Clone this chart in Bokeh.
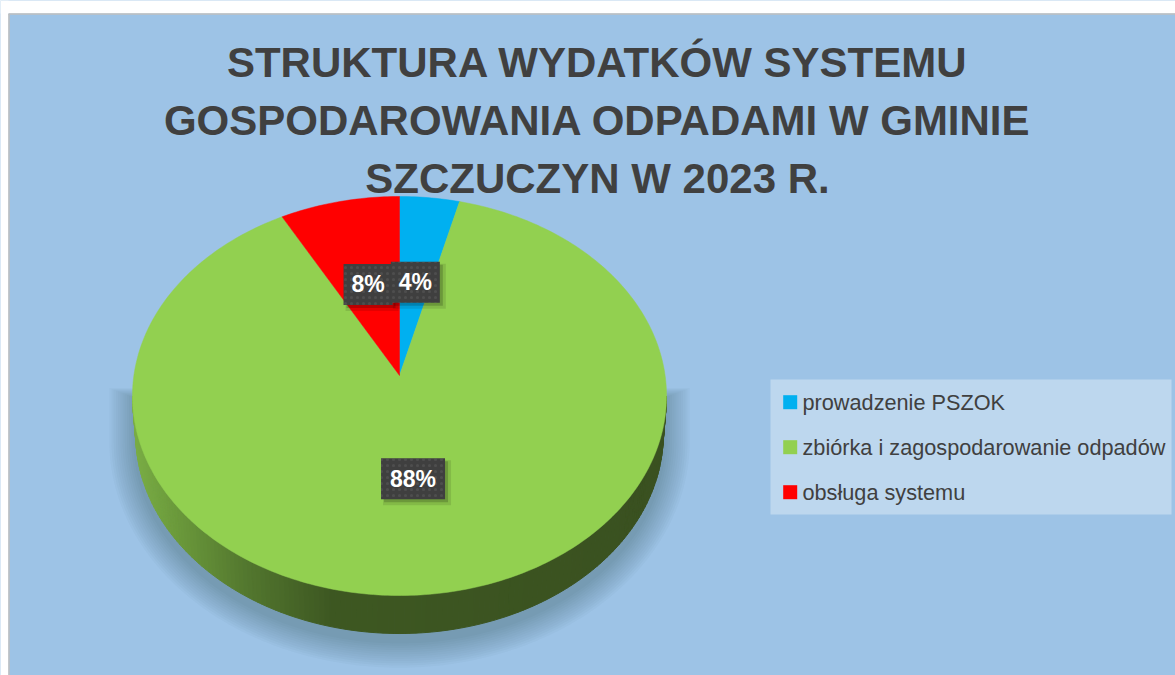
import numpy as np
from bokeh.plotting import figure
from bokeh.models import Range1d
from bokeh.core.properties import value
from bokeh.embed import file_html
from bokeh.resources import INLINE

# ---------------- data ----------------
categories = ["prowadzenie PSZOK", "zbiórka i zagospodarowanie odpadów", "obsługa systemu"]
shares = [4, 88, 8]
colors = ["#00B0F0", "#92D050", "#FF0000"]
labels = ["4%", "88%", "8%"]
title_lines = ["STRUKTURA WYDATKÓW SYSTEMU", "GOSPODAROWANIA ODPADAMI W GMINIE", "SZCZUCZYN W 2023 R."]

# ---------------- layout ----------------
W, H = 1175, 675
def px(X):
    return X
def py(Y):
    return H - Y

p = figure(width=W, height=H, x_range=Range1d(0, W), y_range=Range1d(0, H),
           output_backend="svg", toolbar_location=None, min_border=0,
           x_axis_location=None, y_axis_location=None,
           background_fill_color="#9DC3E6", border_fill_color="white",
           outline_line_color=None)
p.grid.visible = False

# white margins + chart border
p.quad(left=[0, 0], right=[W, 8], bottom=[py(13), 0], top=[H, H], fill_color="white", line_color=None)
p.segment(x0=[8, 8.5], y0=[py(13.5), py(13.5)], x1=[W, 8.5], y1=[py(13.5), 0],
          line_color="#BFBFBF", line_width=1.5)

# pie geometry (perspective-tilted disc)
CX, CY = px(399), py(375)
A, B, K = 265.6, 197.4, 0.1028
DEPTH = 38.0

def proj(theta_deg, r=1.0, drop=0.0, sx=1.0):
    t = np.radians(theta_deg)
    u = r * np.cos(t)
    v = r * np.sin(t)
    d = 1 + K * v
    return CX + sx * A * u / d, CY + B * v / d - drop

# ---- soft shadow ----
th = np.linspace(180, 360, 200)
for i in range(12):
    e = 2 + 2.2 * i
    t = np.radians(th)
    sxs = CX + (264 + e) * np.cos(t)
    sys_ = py(441) + (200 + e) * np.sin(t)
    top_y = py(398) + e * 0.4
    xs = [CX - 264 - e] + list(sxs) + [CX + 264 + e]
    ys = [top_y] + list(sys_) + [top_y]
    p.patch(xs, ys, fill_color="#1F3A5A", fill_alpha=0.028, line_color=None)

# ---- side wall with horizontal gradient ----
tl = 180 + np.degrees(np.arcsin(K))
tr = 360 - np.degrees(np.arcsin(K))
ths = np.linspace(tl, tr, 161)
stops_x = [px(128), px(180), px(250), px(330), px(670)]
stops_c = [(0x7C, 0xB0, 0x46), (0x6A, 0x98, 0x3B), (0x52, 0x76, 0x2E), (0x3E, 0x58, 0x22), (0x3A, 0x51, 0x20)]
def grad(x):
    r = int(np.interp(x, stops_x, [c[0] for c in stops_c]))
    g = int(np.interp(x, stops_x, [c[1] for c in stops_c]))
    b = int(np.interp(x, stops_x, [c[2] for c in stops_c]))
    return "#%02x%02x%02x" % (r, g, b)

sx_list, sy_list, sc_list = [], [], []
for a0, a1 in zip(ths[:-1], ths[1:]):
    x0t, y0t = proj(a0)
    x1t, y1t = proj(a1)
    x0b, y0b = proj(a0, drop=DEPTH, sx=0.988)
    x1b, y1b = proj(a1, drop=DEPTH, sx=0.988)
    sx_list.append([x0t, x1t, x1b, x0b])
    sy_list.append([y0t, y1t, y1b, y0b])
    sc_list.append(grad((x0t + x1t) / 2))
p.patches(sx_list, sy_list, fill_color=sc_list, line_color=sc_list, line_width=1)

# ---- top face slices (clockwise from 12 o'clock) ----
start = 90.0
mids = []
for share, col in zip(shares, colors):
    end = start - share * 3.6
    arc = np.linspace(start, end, max(int(share * 4), 8))
    ax, ay = proj(arc)
    p.patch([CX] + list(ax), [CY] + list(ay), fill_color=col, line_color=col, line_width=0.5)
    mids.append((start + end) / 2)
    start = end

# ---- data labels ----
lx, ly, lw = [], [], []
for m, lab in zip(mids, labels):
    x, y = proj(m, r=0.5)
    lx.append(float(x)); ly.append(float(y)); lw.append(19 + 15 * len(lab))
lx[1] -= 4  # 88% label sits slightly left of the computed point
LH = 41
order = [1, 2, 0]  # draw 88%, 8%, then 4% on top
for i in order:
    p.rect(x=[lx[i] + 4], y=[ly[i] - 4], width=[lw[i] + 4], height=[LH + 4],
           fill_color="black", fill_alpha=0.10, line_color=None)
    p.rect(x=[lx[i] + 3], y=[ly[i] - 3], width=[lw[i]], height=[LH],
           fill_color="black", fill_alpha=0.18, line_color=None)
    p.rect(x=[lx[i]], y=[ly[i]], width=[lw[i]], height=[LH],
           fill_color="#3F3F3F", line_color=None,
           hatch_pattern="dot", hatch_color="#6a6a6a", hatch_alpha=0.35,
           hatch_scale=6, hatch_weight=1.5)
    p.text(x=[lx[i]], y=[ly[i] + 0.1], text=[labels[i]],
           text_font=value("Liberation Sans"), text_font_style="bold",
           text_font_size="23px", text_color="white",
           text_align="center", text_baseline="alphabetic")

# ---- legend ----
p.quad(left=[px(770)], right=[px(1171)], top=[py(379)], bottom=[py(514)],
       fill_color="#BDD7EE", line_color=None)
leg_y = [py(401.7) - 45 * i for i in range(len(categories))]
p.scatter(x=[px(789.7)] * len(categories), y=leg_y, marker="square", size=14,
          fill_color=colors, line_color=None)
p.text(x=[px(802)] * len(categories), y=[yy + 0.2 for yy in leg_y], text=categories,
       text_font=value("Liberation Sans"), text_font_size="21.7px", text_color="#404040",
       text_align="left", text_baseline="alphabetic")

# ---- title ----
p.text(x=[px(597)] * 3, y=[py(79) + 17.5, py(137) + 17.5, py(195) + 17.5], text=title_lines,
       text_font=value("Liberation Sans"), text_font_style="bold", text_font_size="42px",
       text_color="#404040", text_align="center", text_baseline="alphabetic")

open("out.html", "w").write(file_html(p, INLINE))
